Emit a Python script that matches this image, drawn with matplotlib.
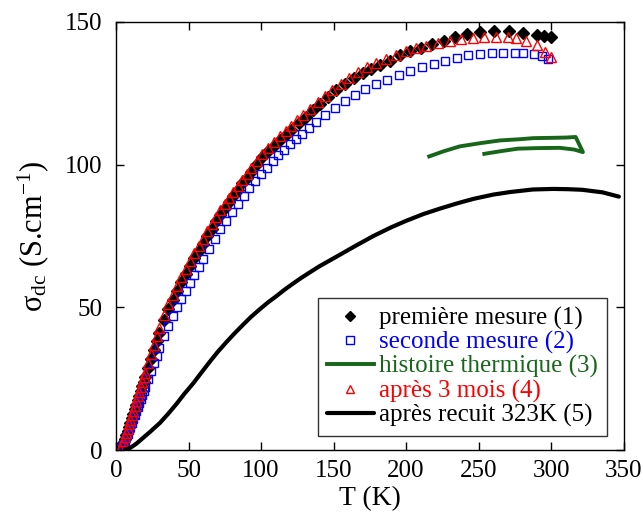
import matplotlib
matplotlib.use('Agg')
import matplotlib.pyplot as plt

plt.rcParams['font.family'] = ['Liberation Serif', 'DejaVu Serif']
plt.rcParams['mathtext.fontset'] = 'custom'
plt.rcParams['mathtext.rm'] = 'Liberation Serif'
plt.rcParams['mathtext.it'] = 'Liberation Serif:italic'

# premiere mesure (1)
T1 = [3, 4, 5, 6, 7, 8, 9, 10, 11, 12, 13, 14, 15, 16, 17, 18, 19, 20, 22, 24, 26, 28, 30,
      33, 36, 39, 42, 45, 48, 51, 54, 57, 60, 63, 66, 69, 72, 75, 78, 81, 84, 87, 90, 93,
      97, 101, 105, 109, 113, 117, 121, 126, 131, 136, 141, 146, 152, 158, 164, 170, 176,
      182, 189, 196, 203, 210, 218, 226, 234, 242, 251, 261, 271, 281, 290, 295, 300]
s1 = [0.3, 1.3, 2.5, 3.8, 5.2, 6.6, 8.1, 9.6, 11.1, 12.7, 14.3, 15.9, 17.5, 19.1, 20.7, 22.3,
      23.9, 25.5, 28.7, 31.9, 35.0, 38.1, 41.1, 45.4, 49.3, 52.7, 55.8, 58.9, 61.8, 64.5,
      67.2, 69.8, 72.3, 75.0, 77.6, 80.2, 82.5, 84.7, 86.8, 88.9, 91.2, 93.5, 95.5, 97.6,
      100.3, 102.6, 104.7, 106.7, 108.6, 110.4, 112.2, 114.5, 116.8, 119.1, 121.4, 123.6,
      126.0, 128.2, 130.2, 132.0, 133.6, 135.0, 136.5, 138.3, 139.7, 141.0, 142.2, 143.4,
      144.6, 145.7, 146.6, 146.9, 146.9, 146.3, 145.5, 145.2, 144.7]

# seconde mesure (2)
T2 = [3, 4, 5, 6, 7, 8, 9, 10, 11, 12, 13, 14, 15, 16, 17, 18, 19, 20, 22, 24, 26, 28, 30,
      33, 36, 39, 42, 45, 48, 51, 54, 57, 60, 64, 68, 72, 76, 80, 84, 88, 92, 96, 100, 104,
      108, 112, 116, 120, 124, 128, 133, 138, 144, 151, 158, 165, 172, 179, 187, 195, 203,
      211, 219, 227, 235, 243, 251, 259, 267, 275, 281, 288, 294, 298]
s2 = [0.2, 1.1, 2.1, 3.2, 4.4, 5.6, 6.9, 8.2, 9.5, 10.9, 12.3, 13.7, 15.1, 16.5, 17.9, 19.3,
      20.7, 22.1, 24.9, 27.7, 30.4, 33.1, 35.7, 39.8, 43.4, 46.8, 50.0, 53.0, 55.9, 58.7,
      61.4, 64.2, 67.0, 70.6, 74.0, 77.3, 80.4, 83.4, 86.3, 89.1, 91.8, 94.3, 96.7, 99.0,
      101.2, 103.3, 105.3, 107.2, 109.0, 110.8, 112.9, 115.0, 117.4, 120.0, 122.4, 124.5,
      126.4, 128.1, 129.8, 131.3, 132.8, 134.2, 135.4, 136.5, 137.5, 138.3, 138.8, 139.1,
      139.2, 139.2, 139.0, 138.8, 138.2, 137.1]

# histoire thermique (3)
T3 = [254, 265, 277, 290, 306, 316, 322, 317, 310, 300, 288, 278, 265, 252, 237, 226, 216]
s3 = [103.8, 104.7, 105.6, 105.8, 105.9, 105.3, 104.4, 109.7, 109.5, 109.4, 109.3, 108.9,
      108.5, 107.6, 106.4, 104.7, 102.9]

# apres 3 mois (4)
T4 = [3, 4, 5, 6, 7, 8, 9, 10, 11, 12, 13, 14, 15, 16, 17, 18, 19, 20, 22, 24, 26, 28, 30,
      33, 36, 39, 42, 45, 48, 51, 54, 57, 60, 63, 66, 69, 72, 75, 78, 81, 84, 87, 90, 93,
      97, 101, 105, 109, 113, 117, 121, 125, 129, 134, 139, 144, 149, 155, 161, 167, 173,
      179, 186, 193, 200, 207, 214, 222, 230, 238, 246, 254, 262, 270, 276, 283, 290, 296, 300]
s4 = [0.5, 1.8, 3.1, 4.5, 6.0, 7.5, 9.0, 10.6, 12.2, 13.8, 15.4, 17.1, 18.8, 20.5, 22.2, 23.9,
      25.5, 27.1, 30.4, 33.6, 36.8, 39.9, 42.9, 47.2, 51.0, 54.4, 57.6, 60.7, 63.6, 66.3,
      69.0, 71.6, 74.1, 76.7, 79.2, 81.7, 84.0, 86.2, 88.3, 90.4, 92.6, 94.8, 96.8, 98.8,
      101.4, 103.7, 105.9, 107.9, 109.9, 111.8, 113.7, 115.5, 117.3, 119.6, 121.8, 124.0,
      126.1, 128.4, 130.5, 132.4, 134.2, 135.7, 137.2, 138.5, 139.7, 140.8, 141.7, 142.6,
      143.3, 143.9, 144.3, 144.6, 144.8, 144.8, 144.5, 143.2, 141.8, 139.5, 137.7]

# apres recuit 323K (5)
T5 = [6.2, 10, 14, 18.8, 24, 30.3, 36, 41.8, 47, 53.3, 59, 64.8, 70, 76.3, 82, 87.8, 93,
      99.3, 105, 110.8, 116, 122.3, 128, 133.8, 140, 152.2, 165, 177.5, 190, 200.5, 212,
      223.4, 235, 246.4, 260, 271.7, 287.4, 301.6, 312, 321.4, 335.5, 346.8]
s5 = [0, 0.8, 2.2, 4.3, 6.6, 9.5, 12.7, 16.2, 19.6, 23.4, 27.2, 31.0, 34.3, 37.9, 41.0,
      44.0, 46.6, 49.4, 51.8, 54.0, 56.1, 58.4, 60.4, 62.3, 64.3, 67.8, 71.5, 75.0, 78.1, 80.4,
      82.7, 84.6, 86.4, 88, 89.5, 90.4, 91.3, 91.5, 91.4, 91.2, 90.3, 88.8]

labels = ['première mesure (1)', 'seconde mesure (2)', 'histoire thermique (3)',
          'après 3 mois (4)', 'après recuit 323K (5)']
green = '#17661a'

fig = plt.figure(figsize=(6.43, 5.2), dpi=100)
ax = fig.add_axes([0.1804, 0.1346, 0.7893, 0.8231])

h1, = ax.plot(T1, s1, 'D', color='black', ms=5.8, lw=0, label=labels[0])
h2, = ax.plot(T2, s2, 's', mfc='none', mec='blue', mew=1, ms=6, lw=0, label=labels[1])
h3, = ax.plot(T3, s3, '-', color=green, lw=2.8, solid_joinstyle='round', label=labels[2])
h4, = ax.plot(T4, s4, '^', mfc='none', mec='red', mew=1, ms=6.5, lw=0, label=labels[3])
h5, = ax.plot(T5, s5, '-', color='black', lw=3, solid_joinstyle='round',
              solid_capstyle='round', label=labels[4])

ax.set_xlim(0, 350)
ax.set_ylim(0, 150)
ax.set_xticks([0, 50, 100, 150, 200, 250, 300, 350])
ax.set_yticks([0, 50, 100, 150])
ax.tick_params(direction='in', length=6, width=1, top=True, right=True,
               labelsize=18)
ax.tick_params(axis='y', pad=10)
ax.tick_params(axis='x', pad=7)
for sp in ax.spines.values():
    sp.set_linewidth(1)

ax.set_xlabel('T (K)', fontsize=20, labelpad=3)
ax.set_ylabel('σ$_{\\mathrm{dc}}$ (S.cm$^{\\mathrm{-1}}$)', fontsize=22, labelpad=10)

leg = ax.legend([h1, h2, h3, h4, h5], labels, loc='lower right',
                bbox_to_anchor=(0.967, 0.033), borderaxespad=0, fontsize=18,
                fancybox=False, framealpha=1, edgecolor='#333333',
                labelspacing=0.05, handlelength=1.9, handletextpad=0.2,
                borderpad=0.35, markerscale=0.85)
leg.get_frame().set_linewidth(1)
for txt, c in zip(leg.get_texts(), ['black', 'blue', green, 'red', 'black']):
    txt.set_color(c)

fig.savefig('out.png', dpi=100)
